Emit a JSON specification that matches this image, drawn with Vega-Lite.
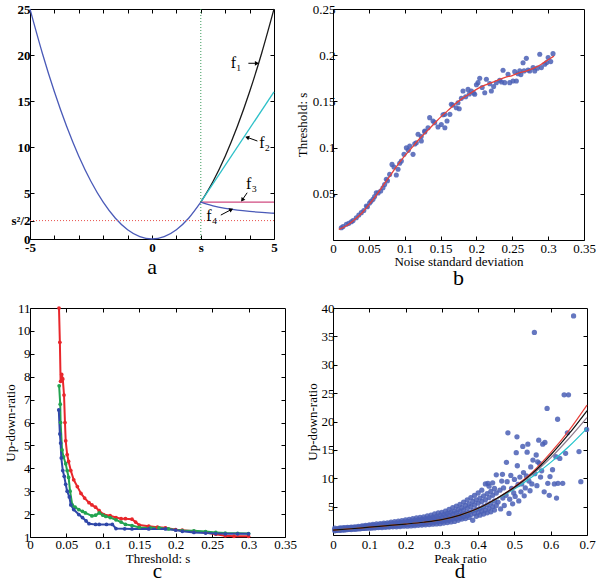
{
"$schema": "https://vega.github.io/schema/vega-lite/v6.json",
"padding": {"left": 3, "top": 2, "right": 2, "bottom": 0},
"columns": 2,
"spacing": {"row": 68, "column": 48},
"bounds": "flush",
"resolve": {"scale": {"color": "independent"}},
"config": {
 "view": {"stroke": "black", "strokeWidth": 1},
 "font": "Liberation Serif",
 "axis": {"grid": false, "domain": false, "ticks": true, "tickColor": "black", "tickSize": -4, "tickWidth": 1, "labelFont": "Liberation Serif", "labelFontSize": 13, "labelColor": "black", "titleFont": "Liberation Serif", "titleFontSize": 13, "titleFontWeight": "normal", "titleColor": "black", "labelFlush": false, "labelOverlap": false, "labelPadding": 3},
 "title": {"font": "Liberation Serif", "fontSize": 22, "fontWeight": "normal", "color": "black", "orient": "bottom", "anchor": "middle"}
},
"datasets": {
 "acurve": [
  {"f":"base","x":-5,"y":25},{"f":"base","x":-4.5,"y":20.25},{"f":"base","x":-4,"y":16},{"f":"base","x":-3.5,"y":12.25},{"f":"base","x":-3,"y":9},{"f":"base","x":-2.5,"y":6.25},{"f":"base","x":-2,"y":4},{"f":"base","x":-1.5,"y":2.25},{"f":"base","x":-1,"y":1},{"f":"base","x":-0.5,"y":0.25},{"f":"base","x":0,"y":0},{"f":"base","x":0.5,"y":0.25},{"f":"base","x":1,"y":1},{"f":"base","x":1.5,"y":2.25},{"f":"base","x":2,"y":4},
  {"f":"f1","x":2,"y":4},{"f":"f1","x":2.5,"y":6.25},{"f":"f1","x":3,"y":9},{"f":"f1","x":3.5,"y":12.25},{"f":"f1","x":4,"y":16},{"f":"f1","x":4.5,"y":20.25},{"f":"f1","x":5,"y":25},
  {"f":"f2","x":2,"y":4},{"f":"f2","x":5,"y":16},
  {"f":"f3","x":2,"y":4},{"f":"f3","x":5,"y":4},
  {"f":"f4","x":2,"y":4},{"f":"f4","x":2.25,"y":3.78},{"f":"f4","x":2.5,"y":3.6},{"f":"f4","x":3,"y":3.33},{"f":"f4","x":3.5,"y":3.14},{"f":"f4","x":4,"y":3.0},{"f":"f4","x":4.5,"y":2.89},{"f":"f4","x":5,"y":2.8}
 ],
 "bpts": [
  {"x":0.0116,"y":0.0133},{"x":0.014,"y":0.0145},{"x":0.0186,"y":0.017},{"x":0.022,"y":0.018},{"x":0.0256,"y":0.0198},{"x":0.028,"y":0.021},{"x":0.0325,"y":0.0241},{"x":0.036,"y":0.027},{"x":0.0395,"y":0.0296},{"x":0.043,"y":0.032},{"x":0.0465,"y":0.0368},{"x":0.048,"y":0.036},{"x":0.051,"y":0.04},{"x":0.053,"y":0.042},{"x":0.0558,"y":0.044},{"x":0.058,"y":0.047},{"x":0.0604,"y":0.0512},{"x":0.063,"y":0.051},{"x":0.0665,"y":0.053},{"x":0.0697,"y":0.0566},{"x":0.072,"y":0.06},{"x":0.0744,"y":0.0657},{"x":0.076,"y":0.064},{"x":0.079,"y":0.071},{"x":0.0823,"y":0.0818},{"x":0.085,"y":0.079},{"x":0.0883,"y":0.0703},{"x":0.0907,"y":0.0765},{"x":0.093,"y":0.083},{"x":0.0953,"y":0.0855},{"x":0.099,"y":0.0927},{"x":0.1023,"y":0.0999},{"x":0.105,"y":0.097},{"x":0.107,"y":0.1017},{"x":0.1116,"y":0.0927},{"x":0.114,"y":0.104},{"x":0.1162,"y":0.1053},{"x":0.1186,"y":0.1144},{"x":0.123,"y":0.112},{"x":0.1232,"y":0.1071},{"x":0.128,"y":0.117},{"x":0.1279,"y":0.118},{"x":0.1325,"y":0.1215},{"x":0.1348,"y":0.1324},{"x":0.1395,"y":0.1288},{"x":0.1418,"y":0.127},{"x":0.1464,"y":0.1223},{"x":0.151,"y":0.125},{"x":0.1534,"y":0.1355},{"x":0.156,"y":0.1215},{"x":0.1558,"y":0.136},{"x":0.159,"y":0.1288},{"x":0.163,"y":0.136},{"x":0.165,"y":0.1468},{"x":0.167,"y":0.146},{"x":0.172,"y":0.1432},{"x":0.1743,"y":0.1486},{"x":0.176,"y":0.142},{"x":0.179,"y":0.1533},{"x":0.1813,"y":0.1613},{"x":0.185,"y":0.155},{"x":0.1883,"y":0.163},{"x":0.19,"y":0.158},{"x":0.193,"y":0.1613},{"x":0.196,"y":0.159},{"x":0.1976,"y":0.1577},{"x":0.2,"y":0.168},{"x":0.2022,"y":0.1703},{"x":0.2046,"y":0.175},{"x":0.208,"y":0.165},{"x":0.2116,"y":0.1594},{"x":0.2139,"y":0.174},{"x":0.2185,"y":0.1692},{"x":0.2208,"y":0.1613},{"x":0.224,"y":0.166},{"x":0.2278,"y":0.1703},{"x":0.2325,"y":0.1729},{"x":0.235,"y":0.171},{"x":0.2371,"y":0.1837},{"x":0.2394,"y":0.1703},{"x":0.2441,"y":0.1793},{"x":0.2464,"y":0.1703},{"x":0.251,"y":0.172},{"x":0.2534,"y":0.1822},{"x":0.2557,"y":0.172},{"x":0.258,"y":0.18},{"x":0.2604,"y":0.183},{"x":0.262,"y":0.179},{"x":0.265,"y":0.1919},{"x":0.2664,"y":0.183},{"x":0.2696,"y":0.1966},{"x":0.272,"y":0.184},{"x":0.2743,"y":0.183},{"x":0.279,"y":0.1866},{"x":0.2813,"y":0.183},{"x":0.285,"y":0.186},{"x":0.2883,"y":0.2011},{"x":0.2906,"y":0.1866},{"x":0.2953,"y":0.1902},{"x":0.298,"y":0.192},{"x":0.3,"y":0.1974},{"x":0.3036,"y":0.1931},{"x":0.3068,"y":0.2017}
 ],
 "bfit": [
  {"x":0.008,"y":0.0115},{"x":0.02,"y":0.016},{"x":0.03,"y":0.022},{"x":0.04,"y":0.029},{"x":0.05,"y":0.038},{"x":0.06,"y":0.048},{"x":0.07,"y":0.059},{"x":0.08,"y":0.07},{"x":0.09,"y":0.081},{"x":0.1,"y":0.091},{"x":0.11,"y":0.1},{"x":0.12,"y":0.109},{"x":0.13,"y":0.117},{"x":0.14,"y":0.125},{"x":0.15,"y":0.133},{"x":0.16,"y":0.14},{"x":0.17,"y":0.147},{"x":0.18,"y":0.153},{"x":0.19,"y":0.158},{"x":0.2,"y":0.163},{"x":0.21,"y":0.167},{"x":0.22,"y":0.17},{"x":0.23,"y":0.173},{"x":0.24,"y":0.176},{"x":0.25,"y":0.178},{"x":0.26,"y":0.181},{"x":0.27,"y":0.183},{"x":0.28,"y":0.186},{"x":0.29,"y":0.19},{"x":0.3,"y":0.195},{"x":0.308,"y":0.199}
 ],
 "cdata": [
  {"s":"r","x":0.0398,"y":11},{"s":"r","x":0.041,"y":9.5},{"s":"r","x":0.042,"y":7.8},{"s":"r","x":0.0435,"y":8.1},{"s":"r","x":0.045,"y":7.9},{"s":"r","x":0.0467,"y":7.2},{"s":"r","x":0.048,"y":6.0},{"s":"r","x":0.049,"y":5.2},{"s":"r","x":0.051,"y":4.6},{"s":"r","x":0.053,"y":4.3},{"s":"r","x":0.056,"y":3.9},{"s":"r","x":0.06,"y":3.5},{"s":"r","x":0.065,"y":3.2},{"s":"r","x":0.07,"y":2.9},{"s":"r","x":0.075,"y":2.7},{"s":"r","x":0.081,"y":2.5},{"s":"r","x":0.085,"y":2.4},{"s":"r","x":0.09,"y":2.3},{"s":"r","x":0.095,"y":2.15},{"s":"r","x":0.101,"y":1.98},{"s":"r","x":0.11,"y":1.93},{"s":"r","x":0.118,"y":1.85},{"s":"r","x":0.125,"y":1.8},{"s":"r","x":0.131,"y":1.8},{"s":"r","x":0.14,"y":1.78},{"s":"r","x":0.145,"y":1.65},{"s":"r","x":0.15,"y":1.52},{"s":"r","x":0.163,"y":1.47},{"s":"r","x":0.175,"y":1.43},{"s":"r","x":0.186,"y":1.4},{"s":"r","x":0.2,"y":1.32},{"s":"r","x":0.209,"y":1.3},{"s":"r","x":0.225,"y":1.25},{"s":"r","x":0.241,"y":1.2},{"s":"r","x":0.255,"y":1.12},{"s":"r","x":0.268,"y":1.05},{"s":"r","x":0.28,"y":1.03},{"s":"r","x":0.3,"y":1.03},
  {"s":"g","x":0.04,"y":7.6},{"s":"g","x":0.0415,"y":6.8},{"s":"g","x":0.042,"y":6.0},{"s":"g","x":0.044,"y":4.8},{"s":"g","x":0.046,"y":4.5},{"s":"g","x":0.049,"y":4.2},{"s":"g","x":0.051,"y":3.9},{"s":"g","x":0.053,"y":3.6},{"s":"g","x":0.055,"y":3.0},{"s":"g","x":0.058,"y":2.4},{"s":"g","x":0.062,"y":2.3},{"s":"g","x":0.067,"y":2.2},{"s":"g","x":0.072,"y":2.12},{"s":"g","x":0.076,"y":2.05},{"s":"g","x":0.085,"y":1.92},{"s":"g","x":0.09,"y":1.95},{"s":"g","x":0.095,"y":2.05},{"s":"g","x":0.1,"y":1.95},{"s":"g","x":0.104,"y":1.9},{"s":"g","x":0.11,"y":1.85},{"s":"g","x":0.118,"y":1.75},{"s":"g","x":0.125,"y":1.65},{"s":"g","x":0.131,"y":1.55},{"s":"g","x":0.14,"y":1.5},{"s":"g","x":0.15,"y":1.42},{"s":"g","x":0.165,"y":1.4},{"s":"g","x":0.177,"y":1.4},{"s":"g","x":0.19,"y":1.35},{"s":"g","x":0.209,"y":1.28},{"s":"g","x":0.225,"y":1.27},{"s":"g","x":0.241,"y":1.24},{"s":"g","x":0.255,"y":1.2},{"s":"g","x":0.268,"y":1.17},{"s":"g","x":0.285,"y":1.16},{"s":"g","x":0.3,"y":1.15},
  {"s":"b","x":0.0395,"y":6.55},{"s":"b","x":0.041,"y":5.5},{"s":"b","x":0.042,"y":5.1},{"s":"b","x":0.043,"y":4.45},{"s":"b","x":0.045,"y":3.9},{"s":"b","x":0.047,"y":3.65},{"s":"b","x":0.049,"y":3.3},{"s":"b","x":0.051,"y":3.0},{"s":"b","x":0.054,"y":2.75},{"s":"b","x":0.056,"y":2.4},{"s":"b","x":0.06,"y":2.2},{"s":"b","x":0.067,"y":1.98},{"s":"b","x":0.072,"y":1.85},{"s":"b","x":0.077,"y":1.7},{"s":"b","x":0.081,"y":1.58},{"s":"b","x":0.09,"y":1.55},{"s":"b","x":0.095,"y":1.55},{"s":"b","x":0.105,"y":1.55},{"s":"b","x":0.113,"y":1.55},{"s":"b","x":0.118,"y":1.37},{"s":"b","x":0.13,"y":1.36},{"s":"b","x":0.14,"y":1.35},{"s":"b","x":0.163,"y":1.35},{"s":"b","x":0.186,"y":1.35},{"s":"b","x":0.2,"y":1.3},{"s":"b","x":0.209,"y":1.25},{"s":"b","x":0.225,"y":1.2},{"s":"b","x":0.241,"y":1.17},{"s":"b","x":0.255,"y":1.15},{"s":"b","x":0.268,"y":1.14},{"s":"b","x":0.285,"y":1.14},{"s":"b","x":0.3,"y":1.14}
 ],
 "dfit": [
  {"s":"cyan","x":0,"y":0.85},{"s":"cyan","x":0.05,"y":1.1},{"s":"cyan","x":0.1,"y":1.38},{"s":"cyan","x":0.15,"y":1.65},{"s":"cyan","x":0.2,"y":1.93},{"s":"cyan","x":0.25,"y":2.25},{"s":"cyan","x":0.3,"y":2.7},{"s":"cyan","x":0.35,"y":3.5},{"s":"cyan","x":0.4,"y":4.65},{"s":"cyan","x":0.45,"y":6.3},{"s":"cyan","x":0.5,"y":8.1},{"s":"cyan","x":0.55,"y":10.3},{"s":"cyan","x":0.6,"y":12.8},{"s":"cyan","x":0.65,"y":15.6},{"s":"cyan","x":0.7,"y":18.8},
  {"s":"gray","x":0,"y":0.85},{"s":"gray","x":0.05,"y":1.1},{"s":"gray","x":0.1,"y":1.38},{"s":"gray","x":0.15,"y":1.65},{"s":"gray","x":0.2,"y":1.93},{"s":"gray","x":0.25,"y":2.25},{"s":"gray","x":0.3,"y":2.7},{"s":"gray","x":0.35,"y":3.5},{"s":"gray","x":0.4,"y":4.7},{"s":"gray","x":0.45,"y":6.35},{"s":"gray","x":0.5,"y":8.3},{"s":"gray","x":0.55,"y":10.7},{"s":"gray","x":0.6,"y":13.6},{"s":"gray","x":0.65,"y":17.0},{"s":"gray","x":0.7,"y":20.7},
  {"s":"red","x":0,"y":0.85},{"s":"red","x":0.05,"y":1.1},{"s":"red","x":0.1,"y":1.38},{"s":"red","x":0.15,"y":1.65},{"s":"red","x":0.2,"y":1.93},{"s":"red","x":0.25,"y":2.25},{"s":"red","x":0.3,"y":2.7},{"s":"red","x":0.35,"y":3.5},{"s":"red","x":0.4,"y":4.7},{"s":"red","x":0.45,"y":6.4},{"s":"red","x":0.5,"y":8.5},{"s":"red","x":0.55,"y":11.1},{"s":"red","x":0.6,"y":14.5},{"s":"red","x":0.65,"y":18.4},{"s":"red","x":0.7,"y":22.9},
  {"s":"black","x":0,"y":0.85},{"s":"black","x":0.05,"y":1.1},{"s":"black","x":0.1,"y":1.38},{"s":"black","x":0.15,"y":1.65},{"s":"black","x":0.2,"y":1.93},{"s":"black","x":0.25,"y":2.25},{"s":"black","x":0.3,"y":2.7},{"s":"black","x":0.35,"y":3.5},{"s":"black","x":0.4,"y":4.7},{"s":"black","x":0.45,"y":6.4},{"s":"black","x":0.5,"y":8.4},{"s":"black","x":0.55,"y":10.9},{"s":"black","x":0.6,"y":14.1},{"s":"black","x":0.65,"y":17.8},{"s":"black","x":0.7,"y":21.9}
 ],
 "dpts": [
  {"x":0.005,"y":0.75},{"x":0.005,"y":1.0},{"x":0.005,"y":1.2},{"x":0.01,"y":0.8},{"x":0.01,"y":1.05},{"x":0.01,"y":0.95},{"x":0.015,"y":1.15},{"x":0.015,"y":0.85},{"x":0.015,"y":1.0},{"x":0.02,"y":0.82},{"x":0.02,"y":1.1},{"x":0.02,"y":1.25},{"x":0.025,"y":1.0},{"x":0.025,"y":1.2},{"x":0.025,"y":0.9},{"x":0.03,"y":0.88},{"x":0.03,"y":1.15},{"x":0.03,"y":1.3},{"x":0.035,"y":1.0},{"x":0.035,"y":1.25},{"x":0.035,"y":0.92},{"x":0.04,"y":0.95},{"x":0.04,"y":1.2},{"x":0.04,"y":1.35},{"x":0.045,"y":1.1},{"x":0.045,"y":1.3},{"x":0.045,"y":0.98},{"x":0.05,"y":0.95},{"x":0.05,"y":1.25},{"x":0.05,"y":1.4},{"x":0.055,"y":1.05},{"x":0.055,"y":1.35},{"x":0.055,"y":1.2},{"x":0.06,"y":1.0},{"x":0.06,"y":1.3},{"x":0.06,"y":1.45},{"x":0.065,"y":1.15},{"x":0.065,"y":1.4},{"x":0.065,"y":1.05},{"x":0.07,"y":1.1},{"x":0.07,"y":1.35},{"x":0.07,"y":1.5},{"x":0.075,"y":1.2},{"x":0.075,"y":1.45},{"x":0.075,"y":1.1},{"x":0.08,"y":1.15},{"x":0.08,"y":1.4},{"x":0.08,"y":1.6},{"x":0.085,"y":1.25},{"x":0.085,"y":1.55},{"x":0.085,"y":1.15},{"x":0.09,"y":1.2},{"x":0.09,"y":1.5},{"x":0.09,"y":1.7},{"x":0.095,"y":1.3},{"x":0.095,"y":1.6},{"x":0.095,"y":1.2},{"x":0.1,"y":1.25},{"x":0.1,"y":1.55},{"x":0.1,"y":1.8},{"x":0.105,"y":1.35},{"x":0.105,"y":1.7},{"x":0.105,"y":1.2},{"x":0.11,"y":1.3},{"x":0.11,"y":1.6},{"x":0.11,"y":1.85},{"x":0.115,"y":1.4},{"x":0.115,"y":1.75},{"x":0.115,"y":1.25},{"x":0.12,"y":1.35},{"x":0.12,"y":1.65},{"x":0.12,"y":1.95},{"x":0.125,"y":1.45},{"x":0.125,"y":1.8},{"x":0.125,"y":1.3},{"x":0.13,"y":1.4},{"x":0.13,"y":1.7},{"x":0.13,"y":2.0},{"x":0.135,"y":1.5},{"x":0.135,"y":1.85},{"x":0.135,"y":1.3},{"x":0.14,"y":1.45},{"x":0.14,"y":1.75},{"x":0.14,"y":2.1},{"x":0.145,"y":1.55},{"x":0.145,"y":1.95},{"x":0.145,"y":1.35},{"x":0.15,"y":1.5},{"x":0.15,"y":1.8},{"x":0.15,"y":2.15},{"x":0.155,"y":1.6},{"x":0.155,"y":2.0},{"x":0.155,"y":1.4},{"x":0.16,"y":1.55},{"x":0.16,"y":1.85},{"x":0.16,"y":2.25},{"x":0.165,"y":1.65},{"x":0.165,"y":2.05},{"x":0.165,"y":1.45},{"x":0.17,"y":1.6},{"x":0.17,"y":1.95},{"x":0.17,"y":2.35},{"x":0.175,"y":1.7},{"x":0.175,"y":2.15},{"x":0.175,"y":1.45},{"x":0.18,"y":1.65},{"x":0.18,"y":2.0},{"x":0.18,"y":2.45},{"x":0.185,"y":1.75},{"x":0.185,"y":2.2},{"x":0.185,"y":1.5},{"x":0.19,"y":1.7},{"x":0.19,"y":2.1},{"x":0.19,"y":2.55},{"x":0.195,"y":1.85},{"x":0.195,"y":2.3},{"x":0.195,"y":1.55},{"x":0.2,"y":1.75},{"x":0.2,"y":2.15},{"x":0.2,"y":2.65},{"x":0.205,"y":1.9},{"x":0.205,"y":2.4},{"x":0.205,"y":1.55},{"x":0.21,"y":1.8},{"x":0.21,"y":2.25},{"x":0.21,"y":2.75},{"x":0.215,"y":1.95},{"x":0.215,"y":2.5},{"x":0.215,"y":1.6},{"x":0.22,"y":1.85},{"x":0.22,"y":2.3},{"x":0.22,"y":2.9},{"x":0.225,"y":2.0},{"x":0.225,"y":2.6},{"x":0.225,"y":1.65},{"x":0.23,"y":1.9},{"x":0.23,"y":2.4},{"x":0.23,"y":3.0},{"x":0.235,"y":2.05},{"x":0.235,"y":2.7},{"x":0.235,"y":1.7},{"x":0.24,"y":1.95},{"x":0.24,"y":2.45},{"x":0.24,"y":3.1},{"x":0.245,"y":2.1},{"x":0.245,"y":2.8},{"x":0.245,"y":1.75},{"x":0.25,"y":2.0},{"x":0.25,"y":2.55},{"x":0.25,"y":3.2},{"x":0.255,"y":2.2},{"x":0.255,"y":2.9},{"x":0.255,"y":1.8},{"x":0.26,"y":2.1},{"x":0.26,"y":2.65},{"x":0.26,"y":3.35},{"x":0.265,"y":2.3},{"x":0.265,"y":3.0},{"x":0.265,"y":1.85},{"x":0.27,"y":2.15},{"x":0.27,"y":2.75},{"x":0.27,"y":3.5},{"x":0.275,"y":2.4},{"x":0.275,"y":3.15},{"x":0.275,"y":1.9},{"x":0.28,"y":2.25},{"x":0.28,"y":2.9},{"x":0.28,"y":3.7},{"x":0.285,"y":2.5},{"x":0.285,"y":3.3},{"x":0.285,"y":1.95},{"x":0.29,"y":2.35},{"x":0.29,"y":3.0},{"x":0.29,"y":3.9},{"x":0.295,"y":2.6},{"x":0.295,"y":3.45},{"x":0.295,"y":2.0},{"x":0.3,"y":2.4},{"x":0.3,"y":3.1},{"x":0.3,"y":4.0},{"x":0.305,"y":2.7},{"x":0.305,"y":3.6},{"x":0.305,"y":2.1},{"x":0.31,"y":2.5},{"x":0.31,"y":3.3},{"x":0.31,"y":4.2},{"x":0.315,"y":2.9},{"x":0.315,"y":3.8},{"x":0.315,"y":2.2},{"x":0.32,"y":2.6},{"x":0.32,"y":3.5},{"x":0.32,"y":4.5},{"x":0.325,"y":3.0},{"x":0.325,"y":4.0},{"x":0.325,"y":2.3},{"x":0.33,"y":2.8},{"x":0.33,"y":3.7},{"x":0.33,"y":4.8},{"x":0.335,"y":3.2},{"x":0.335,"y":4.2},{"x":0.335,"y":2.4},{"x":0.34,"y":2.9},{"x":0.34,"y":3.9},{"x":0.34,"y":5.1},{"x":0.345,"y":3.4},{"x":0.345,"y":4.5},{"x":0.345,"y":2.6},{"x":0.35,"y":3.0},{"x":0.35,"y":4.1},{"x":0.35,"y":5.4},{"x":0.355,"y":3.6},{"x":0.355,"y":4.8},{"x":0.355,"y":2.8},{"x":0.36,"y":3.2},{"x":0.36,"y":4.4},{"x":0.36,"y":5.8},{"x":0.365,"y":3.8},{"x":0.365,"y":5.2},{"x":0.365,"y":2.9},{"x":0.37,"y":3.4},{"x":0.37,"y":4.7},{"x":0.37,"y":6.2},{"x":0.375,"y":4.0},{"x":0.375,"y":5.5},{"x":0.375,"y":3.1},{"x":0.38,"y":3.6},{"x":0.38,"y":5.0},{"x":0.38,"y":6.6},{"x":0.385,"y":4.3},{"x":0.385,"y":5.9},{"x":0.385,"y":2.6},{"x":0.39,"y":3.8},{"x":0.39,"y":5.3},{"x":0.39,"y":7.0},{"x":0.395,"y":4.5},{"x":0.395,"y":6.2},{"x":0.395,"y":3.3},{"x":0.4,"y":4.0},{"x":0.4,"y":5.6},{"x":0.4,"y":7.4},{"x":0.405,"y":4.7},{"x":0.405,"y":6.5},{"x":0.405,"y":3.5},{"x":0.41,"y":4.2},{"x":0.41,"y":5.9},{"x":0.41,"y":7.9},{"x":0.415,"y":5.0},{"x":0.415,"y":6.9},{"x":0.415,"y":3.7},{"x":0.42,"y":4.4},{"x":0.42,"y":6.2},{"x":0.42,"y":9.0},{"x":0.425,"y":5.3},{"x":0.425,"y":7.3},{"x":0.425,"y":3.9},{"x":0.427,"y":9.1},{"x":0.43,"y":4.7},{"x":0.43,"y":6.6},{"x":0.43,"y":8.6},{"x":0.435,"y":5.6},{"x":0.435,"y":7.7},{"x":0.435,"y":4.1},{"x":0.44,"y":5.0},{"x":0.44,"y":7.0},{"x":0.44,"y":9.2},{"x":0.445,"y":6.0},{"x":0.445,"y":8.2},{"x":0.445,"y":4.4},{"x":0.45,"y":5.2},{"x":0.45,"y":7.4},{"x":0.45,"y":10.6},
  {"x":0.455,"y":5.8},{"x":0.46,"y":7.9},{"x":0.462,"y":4.6},{"x":0.465,"y":9.5},{"x":0.467,"y":10.7},{"x":0.468,"y":6.5},{"x":0.47,"y":8.3},{"x":0.472,"y":5.2},{"x":0.477,"y":7.0},{"x":0.478,"y":12.8},{"x":0.48,"y":9.4},{"x":0.482,"y":18.0},{"x":0.485,"y":3.8},{"x":0.487,"y":6.3},{"x":0.49,"y":10.5},{"x":0.492,"y":8.2},{"x":0.495,"y":5.5},{"x":0.498,"y":7.4},{"x":0.5,"y":9.8},{"x":0.502,"y":6.8},{"x":0.505,"y":14.5},{"x":0.507,"y":17.3},{"x":0.508,"y":12.2},{"x":0.51,"y":8.9},{"x":0.512,"y":6.0},{"x":0.515,"y":10.2},{"x":0.518,"y":7.6},{"x":0.52,"y":9.0},{"x":0.523,"y":15.6},{"x":0.525,"y":11.0},{"x":0.527,"y":6.9},{"x":0.53,"y":8.3},{"x":0.533,"y":10.4},{"x":0.535,"y":14.6},{"x":0.537,"y":16.0},{"x":0.54,"y":9.5},{"x":0.543,"y":7.8},{"x":0.545,"y":12.0},{"x":0.548,"y":9.0},{"x":0.551,"y":13.2},{"x":0.555,"y":35.7},{"x":0.556,"y":10.8},{"x":0.56,"y":14.1},{"x":0.562,"y":8.7},{"x":0.564,"y":12.9},{"x":0.567,"y":16.7},{"x":0.569,"y":12.6},{"x":0.572,"y":10.2},{"x":0.575,"y":11.3},{"x":0.578,"y":16.0},{"x":0.582,"y":7.6},{"x":0.584,"y":16.3},{"x":0.59,"y":22.3},{"x":0.592,"y":9.1},{"x":0.596,"y":7.0},{"x":0.598,"y":10.3},{"x":0.605,"y":11.5},{"x":0.61,"y":9.0},{"x":0.614,"y":13.8},{"x":0.616,"y":6.5},{"x":0.619,"y":20.4},{"x":0.62,"y":9.1},{"x":0.625,"y":13.5},{"x":0.633,"y":9.1},{"x":0.637,"y":24.7},{"x":0.641,"y":14.4},{"x":0.646,"y":18.0},{"x":0.649,"y":24.7},{"x":0.663,"y":38.6},{"x":0.678,"y":14.7},{"x":0.683,"y":9.4},{"x":0.699,"y":18.6}
 ]
},
"concat": [
 {
  "width": 244, "height": 230,
  "title": {"text": "a", "offset": 3},
  "layer": [
   {"layer": [
    {"data": {"name": "acurve"}, "mark": {"type": "line", "strokeWidth": 1.3, "interpolate": "monotone"},
     "encoding": {
      "x": {"field": "x", "type": "quantitative", "scale": {"domain": [-5, 5], "nice": false, "zero": false}, "axis": null},
      "y": {"field": "y", "type": "quantitative", "scale": {"domain": [0, 25], "nice": false, "zero": false}, "axis": null},
      "color": {"field": "f", "type": "nominal", "legend": null,
                "scale": {"domain": ["base","f1","f2","f3","f4"], "range": ["#4a5ab8","#1a1a1a","#2cc0c8","#d04a80","#4a5ab8"]}}
     }},
    {"data": {"values": [{"x": 2}]}, "mark": {"type": "rule", "color": "#3a9a5a", "strokeDash": [1, 2], "strokeWidth": 1}, "encoding": {"x": {"field": "x", "type": "quantitative", "axis": null}}},
    {"data": {"values": [{"y": 2}]}, "mark": {"type": "rule", "color": "#e8504a", "strokeDash": [1, 2], "strokeWidth": 1}, "encoding": {"y": {"field": "y", "type": "quantitative", "axis": null}}},
    {"data": {"values": [{"x": 3.95, "y": 19.1, "x2": 4.3, "y2": 19.1}, {"x": 4.32, "y": 10.65, "x2": 3.9, "y2": 11.05}, {"x": 3.9, "y": 5.03, "x2": 3.7, "y2": 4.25}, {"x": 2.82, "y": 2.6, "x2": 3.25, "y2": 3.2}]},
     "mark": {"type": "rule", "color": "black", "strokeWidth": 1},
     "encoding": {"x": {"field": "x", "type": "quantitative", "axis": null}, "y": {"field": "y", "type": "quantitative", "axis": null}, "x2": {"field": "x2"}, "y2": {"field": "y2"}}},
    {"data": {"values": [{"x": 4.3, "y": 19.1}]}, "mark": {"type": "point", "shape": "triangle-right", "filled": true, "color": "black", "size": 22, "angle": 0, "opacity": 1}, "encoding": {"x": {"field": "x", "type": "quantitative", "axis": null}, "y": {"field": "y", "type": "quantitative", "axis": null}}},
    {"data": {"values": [{"x": 3.9, "y": 11.05}]}, "mark": {"type": "point", "shape": "triangle-right", "filled": true, "color": "black", "size": 22, "angle": 200, "opacity": 1}, "encoding": {"x": {"field": "x", "type": "quantitative", "axis": null}, "y": {"field": "y", "type": "quantitative", "axis": null}}},
    {"data": {"values": [{"x": 3.7, "y": 4.25}]}, "mark": {"type": "point", "shape": "triangle-right", "filled": true, "color": "black", "size": 22, "angle": 126, "opacity": 1}, "encoding": {"x": {"field": "x", "type": "quantitative", "axis": null}, "y": {"field": "y", "type": "quantitative", "axis": null}}},
    {"data": {"values": [{"x": 3.25, "y": 3.2}]}, "mark": {"type": "point", "shape": "triangle-right", "filled": true, "color": "black", "size": 22, "angle": 334, "opacity": 1}, "encoding": {"x": {"field": "x", "type": "quantitative", "axis": null}, "y": {"field": "y", "type": "quantitative", "axis": null}}},
    {"data": {"values": [{"x": 3.45, "y": 19.1, "t": "f₁"}, {"x": 4.62, "y": 10.4, "t": "f₂"}, {"x": 4.08, "y": 6.0, "t": "f₃"}, {"x": 2.45, "y": 2.5, "t": "f₄"}]},
     "mark": {"type": "text", "font": "Liberation Serif", "fontSize": 16, "color": "black", "align": "center", "baseline": "middle"},
     "encoding": {"x": {"field": "x", "type": "quantitative", "axis": null}, "y": {"field": "y", "type": "quantitative", "axis": null}, "text": {"field": "t"}}}
   ]},
   {"data": {"values": [{}]}, "mark": {"type": "point", "opacity": 0},
    "encoding": {
     "x": {"datum": 0, "type": "quantitative", "scale": {"domain": [-5, 5], "nice": false, "zero": false},
           "axis": {"title": null, "values": [-5,-4,-3,-2,-1,0,1,2,3,4,5], "labelFontWeight": "bold", "labelPadding": 6, "labelOverlap": false,
                    "labelExpr": "datum.value==-5?'-5':datum.value==0?'0':datum.value==2?'s':datum.value==5?'5':''"}},
     "y": {"datum": 5, "type": "quantitative", "scale": {"domain": [0, 25], "nice": false, "zero": false},
           "axis": {"title": null, "values": [0,2,5,10,15,20,25], "labelFontWeight": "bold", "labelPadding": 4, "labelOverlap": false,
                    "labelExpr": "datum.value==2?'s²/2':datum.label"}}
    }},
   {"data": {"values": [{}]}, "mark": {"type": "point", "opacity": 0},
    "encoding": {
     "x": {"datum": 0, "type": "quantitative", "scale": {"domain": [-5, 5], "nice": false, "zero": false}, "axis": {"orient": "top", "labels": false, "title": null, "values": [-4,-3,-2,-1,0,1,2,3,4]}},
     "y": {"datum": 5, "type": "quantitative", "scale": {"domain": [0, 25], "nice": false, "zero": false}, "axis": {"orient": "right", "labels": false, "title": null, "values": [5,10,15,20]}}
    }}
  ],
  "resolve": {"axis": {"x": "independent", "y": "independent"}}
 },
 {
  "width": 251, "height": 231,
  "title": {"text": "b", "offset": 0},
  "layer": [
   {"layer": [
    {"data": {"name": "bpts"}, "mark": {"type": "point", "shape": "circle", "filled": true, "color": "#4a5fb5", "size": 26, "opacity": 0.85},
     "encoding": {
      "x": {"field": "x", "type": "quantitative", "scale": {"domain": [0, 0.35], "nice": false, "zero": false}, "axis": null},
      "y": {"field": "y", "type": "quantitative", "scale": {"domain": [0, 0.25], "nice": false, "zero": false}, "axis": null}
     }},
    {"data": {"name": "bfit"}, "mark": {"type": "line", "color": "#e8413a", "strokeWidth": 1.3, "interpolate": "monotone"},
     "encoding": {"x": {"field": "x", "type": "quantitative", "axis": null}, "y": {"field": "y", "type": "quantitative", "axis": null}}}
   ]},
   {"data": {"values": [{}]}, "mark": {"type": "point", "opacity": 0},
    "encoding": {
     "x": {"datum": 0.1, "type": "quantitative", "scale": {"domain": [0, 0.35], "nice": false, "zero": false},
           "axis": {"title": "Noise standard deviation", "values": [0,0.05,0.1,0.15,0.2,0.25,0.3,0.35], "format": "~g", "labelPadding": 6, "titlePadding": 0, "labelOverlap": false}},
     "y": {"datum": 0.1, "type": "quantitative", "scale": {"domain": [0, 0.25], "nice": false, "zero": false},
           "axis": {"title": "Threshold: s", "values": [0.05,0.1,0.15,0.2,0.25], "format": "~g", "labelPadding": 2, "titlePadding": 3, "labelOverlap": false}}
    }},
   {"data": {"values": [{}]}, "mark": {"type": "point", "opacity": 0},
    "encoding": {
     "x": {"datum": 0.1, "type": "quantitative", "scale": {"domain": [0, 0.35], "nice": false, "zero": false}, "axis": {"orient": "top", "labels": false, "title": null, "values": [0.05,0.1,0.15,0.2,0.25,0.3]}},
     "y": {"datum": 0.1, "type": "quantitative", "scale": {"domain": [0, 0.25], "nice": false, "zero": false}, "axis": {"orient": "right", "labels": false, "title": null, "values": [0.05,0.1,0.15,0.2]}}
    }}
  ],
  "resolve": {"axis": {"x": "independent", "y": "independent"}}
 },
 {
  "width": 255, "height": 229,
  "title": {"text": "c", "offset": -4, "fontSize": 21},
  "layer": [
   {"layer": [
    {"data": {"name": "cdata"}, "mark": {"type": "line", "strokeWidth": 2, "point": {"filled": true, "size": 14}},
     "encoding": {
      "x": {"field": "x", "type": "quantitative", "scale": {"domain": [0, 0.35], "nice": false, "zero": false},
            "axis": {"title": "Threshold: s", "values": [0,0.05,0.1,0.15,0.2,0.25,0.3,0.35], "format": "~g", "labelPadding": 5, "titlePadding": 1, "labelOverlap": false}},
      "y": {"field": "y", "type": "quantitative", "scale": {"domain": [1, 11], "nice": false, "zero": false},
            "axis": {"title": "Up-down-ratio", "values": [1,2,3,4,5,6,7,8,9,10,11], "labelPadding": 4, "titlePadding": 0, "labelOverlap": false}},
      "color": {"field": "s", "type": "nominal", "legend": null, "sort": ["r","g","b"],
                "scale": {"domain": ["r","g","b"], "range": ["#e8262b","#22a350","#2f47a8"]}}
     }}
   ]},
   {"data": {"values": [{}]}, "mark": {"type": "point", "opacity": 0},
    "encoding": {
     "x": {"datum": 0.1, "type": "quantitative", "scale": {"domain": [0, 0.35], "nice": false, "zero": false}, "axis": {"orient": "top", "labels": false, "title": null, "values": [0.05,0.1,0.15,0.2,0.25,0.3]}},
     "y": {"datum": 2, "type": "quantitative", "scale": {"domain": [1, 11], "nice": false, "zero": false}, "axis": {"orient": "right", "labels": false, "title": null, "values": [2,3,4,5,6,7,8,9,10]}}
    }}
  ],
  "resolve": {"axis": {"x": "independent", "y": "independent"}}
 },
 {
  "width": 254, "height": 227,
  "title": {"text": "d", "offset": -4, "fontSize": 21},
  "layer": [
   {"layer": [
    {"data": {"name": "dpts"}, "mark": {"type": "point", "shape": "circle", "filled": true, "color": "#4a5fb5", "size": 28, "opacity": 0.85},
     "encoding": {
      "x": {"field": "x", "type": "quantitative", "scale": {"domain": [0, 0.7], "nice": false, "zero": false}, "axis": null},
      "y": {"field": "y", "type": "quantitative", "scale": {"domain": [0, 40], "nice": false, "zero": false}, "axis": null}
     }},
    {"data": {"name": "dfit"}, "mark": {"type": "line", "strokeWidth": 1.2, "interpolate": "monotone"},
     "encoding": {"x": {"field": "x", "type": "quantitative", "axis": null}, "y": {"field": "y", "type": "quantitative", "axis": null},
      "color": {"field": "s", "type": "nominal", "legend": null, "scale": {"domain": ["cyan","gray","red","black"], "range": ["#22c4cc","#8c7b8c","#e8413a","#111111"]}}}}
   ]},
   {"data": {"values": [{}]}, "mark": {"type": "point", "opacity": 0},
    "encoding": {
     "x": {"datum": 0.1, "type": "quantitative", "scale": {"domain": [0, 0.7], "nice": false, "zero": false},
           "axis": {"title": "Peak ratio", "values": [0,0.1,0.2,0.3,0.4,0.5,0.6,0.7], "format": "~g", "labelPadding": 7, "titlePadding": 1, "labelOverlap": false}},
     "y": {"datum": 5, "type": "quantitative", "scale": {"domain": [0, 40], "nice": false, "zero": false},
           "axis": {"title": "Up-down-ratio", "values": [5,10,15,20,25,30,35,40], "labelPadding": 3, "titlePadding": 2, "labelOverlap": false}}
    }},
   {"data": {"values": [{}]}, "mark": {"type": "point", "opacity": 0},
    "encoding": {
     "x": {"datum": 0.1, "type": "quantitative", "scale": {"domain": [0, 0.7], "nice": false, "zero": false}, "axis": {"orient": "top", "labels": false, "title": null, "values": [0.1,0.2,0.3,0.4,0.5,0.6]}},
     "y": {"datum": 5, "type": "quantitative", "scale": {"domain": [0, 40], "nice": false, "zero": false}, "axis": {"orient": "right", "labels": false, "title": null, "values": [5,10,15,20,25,30,35]}}
    }}
  ],
  "resolve": {"axis": {"x": "independent", "y": "independent"}}
 }
]
}
